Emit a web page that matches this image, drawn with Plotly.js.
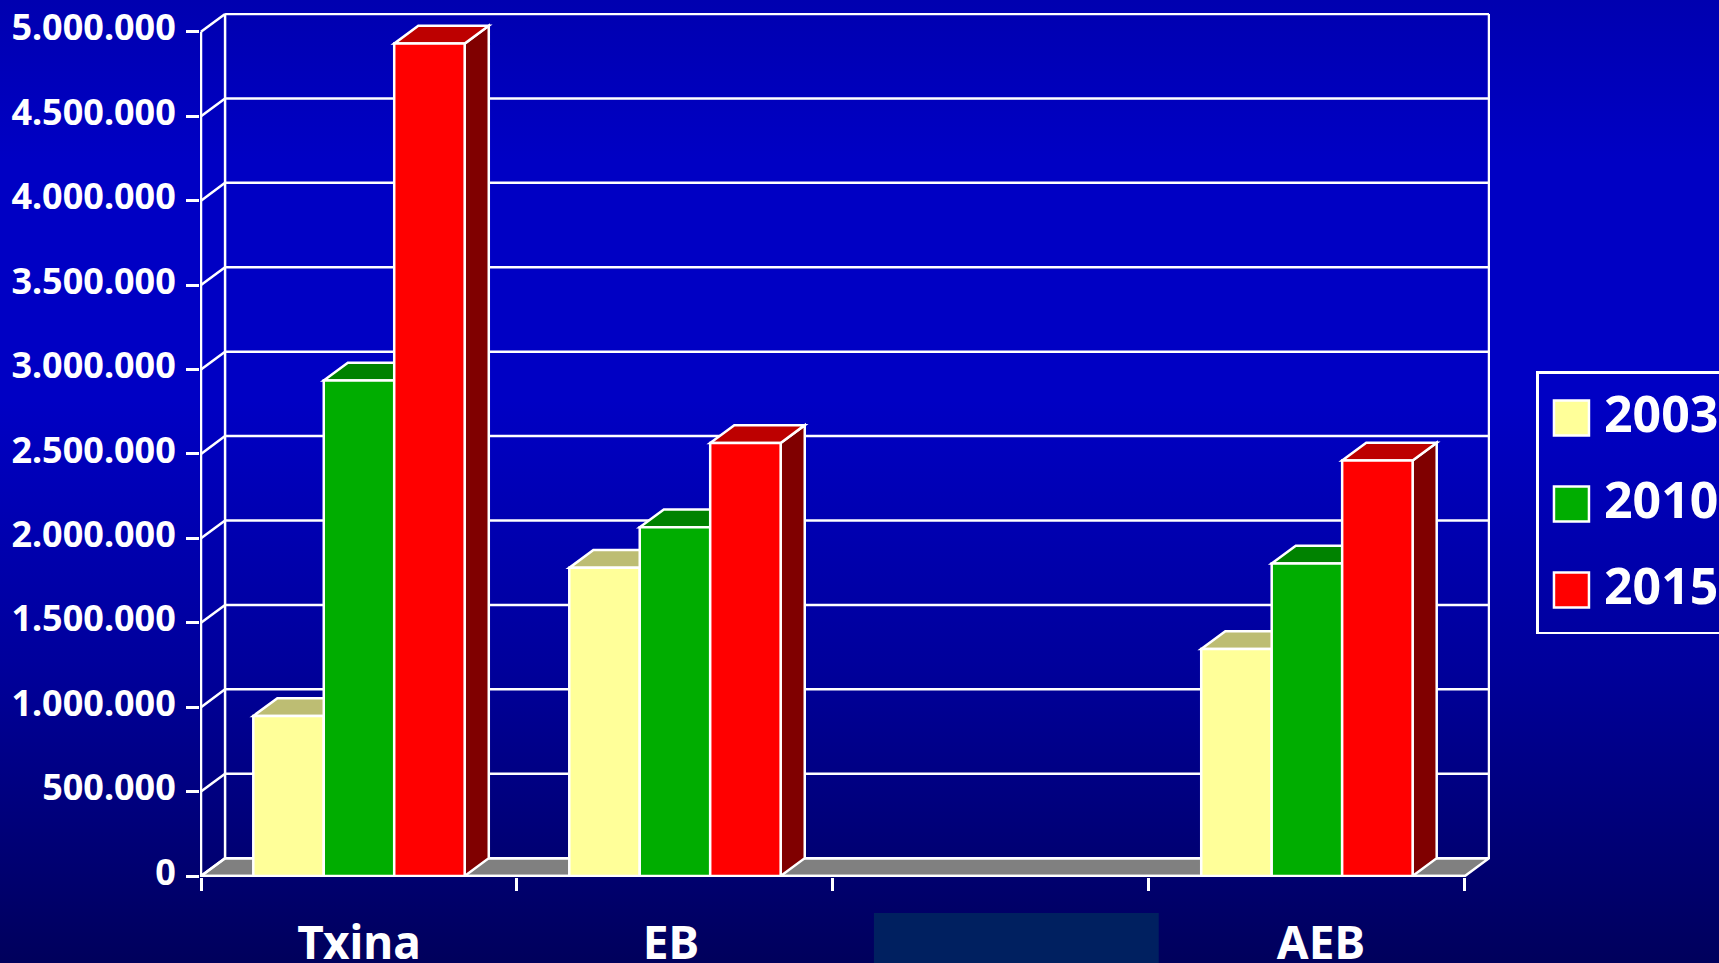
<!DOCTYPE html>
<html>
<head>
<meta charset="utf-8">
<script src="https://cdn.plot.ly/plotly-3.0.1.min.js"></script>
<style>
html,body{margin:0;padding:0;width:1719px;height:963px;overflow:hidden;
background:linear-gradient(180deg,#0000b0 0px,#0000c4 160px,#0000c4 400px,#00009c 660px,#00005c 963px);}
#chart{width:1719px;height:963px;}
</style>
</head>
<body>
<div id="chart"></div>
<script>
const categories = ["Txina", "EB", " ", "AEB"];
const years = ["2003", "2010", "2015"];
const values2003 = [948000, 1825000, null, 1344000];
const values2010 = [2935000, 2065000, null, 1851000];
const values2015 = [4930000, 2565000, null, 2461000];
const yTicks = [0, 500000, 1000000, 1500000, 2000000, 2500000, 3000000, 3500000, 4000000, 4500000, 5000000];
const yTickLabels = ["0", "500.000", "1.000.000", "1.500.000", "2.000.000", "2.500.000", "3.000.000", "3.500.000", "4.000.000", "4.500.000", "5.000.000"];
const frontColors = ["#ffff99", "#00ad00", "#ff0000"];
const topColors = ["#bdbd73", "#008200", "#bd0000"];
const sideColors = ["#808050", "#006000", "#800000"];

const seriesValues = [values2003, values2010, values2015];
const pxPerCat = 316.2, pxPerVal = 844.3 / 5000000;
const dx = 24.1 / pxPerCat, dy = 17.8 / pxPerVal;
const bargap = 0.331;
const white = "#ffffff";
const lineW = {color: white, width: 2.5};

const plotLeft = 199.6, plotTop = 12.9, plotBottom = 877;
const plotW = (4 + dx) * pxPerCat + 2;
const xRange = [-0.5 - 1 / pxPerCat, 3.5 + dx + 1 / pxPerCat];
const yRange = [-1 / pxPerVal, 5000000 + dy + 1 / pxPerVal];

function poly(points, fill, line) {
  const path = points.map((p, i) => (i ? "L" : "M") + p[0] + "," + p[1]).join(" ") + " Z";
  return {type: "path", xref: "x", yref: "y", path, fillcolor: fill, line: line || lineW, layer: "below"};
}
function seg(x0, y0, x1, y1) {
  return {type: "line", xref: "x", yref: "y", x0, y0, x1, y1, line: lineW, layer: "below"};
}

const L = -0.5, R = 3.5, top5 = 5000000;
const shapes = [];
// floor
shapes.push(poly([[L, 0], [L + dx, dy], [R + dx, dy], [R, 0]], "#808080"));
// back wall and grid
yTicks.forEach(v => {
  shapes.push(seg(L + dx, v + dy, R + dx, v + dy));
  shapes.push(seg(L, v, L + dx, v + dy));
});
shapes.push(seg(L + dx, dy, L + dx, top5 + dy));
shapes.push(seg(R + dx, dy, R + dx, top5 + dy));
shapes.push(seg(L, 0, L, top5));
shapes.push(seg(L, 0, R, 0));
// depth faces of the bars
const barW = (1 - bargap) / years.length;
seriesValues.forEach((vals, s) => {
  vals.forEach((v, c) => {
    if (v === null) return;
    const x0 = c - (1 - bargap) / 2 + s * barW, x1 = x0 + barW;
    shapes.push(poly([[x1, 0], [x1 + dx, dy], [x1 + dx, v + dy], [x1, v]], sideColors[s]));
    shapes.push(poly([[x0, v], [x0 + dx, v + dy], [x1 + dx, v + dy], [x1, v]], topColors[s]));
  });
});
// masked category label
shapes.push({type: "rect", xref: "paper", yref: "paper",
  x0: (874 - plotLeft) / plotW, x1: (1159 - plotLeft) / plotW,
  y0: -(970 - plotBottom) / (plotBottom - plotTop), y1: -(913 - plotBottom) / (plotBottom - plotTop),
  fillcolor: "#002060", line: {width: 0}, layer: "above"});

const traces = years.map((y, s) => ({
  type: "bar", name: y, x: categories, y: seriesValues[s],
  legendgroup: y,
  marker: {color: frontColors[s], line: {color: white, width: 2.5}},
  hoverinfo: "x+y+name"
}));

const layout = {
  width: 1719, height: 963,
  paper_bgcolor: "rgba(0,0,0,0)", plot_bgcolor: "rgba(0,0,0,0)",
  margin: {l: plotLeft, r: 1719 - plotLeft - plotW, t: plotTop, b: 963 - plotBottom, pad: 0, autoexpand: false},
  barmode: "group", bargap: bargap, bargroupgap: 0,
  font: {family: "'Noto Sans', sans-serif", color: white},
  xaxis: {
    type: "category", categoryorder: "array", categoryarray: categories,
    range: xRange, autorange: false, tickson: "boundaries",
    ticks: "outside", ticklen: 13, tickwidth: 2.5, tickcolor: white,
    showgrid: false, zeroline: false, showline: false, automargin: false,
    ticklabelstandoff: 35,
    tickfont: {size: 46, weight: 700, color: white}
  },
  yaxis: {
    range: yRange, autorange: false, tickmode: "array", tickvals: yTicks, ticktext: yTickLabels,
    ticks: "outside", ticklen: 13, tickwidth: 2.5, tickcolor: white,
    showgrid: false, zeroline: false, showline: false, automargin: false,
    ticklabelstandoff: 3, ticklabelshift: -4,
    tickfont: {size: 36, weight: 700, color: white}
  },
  showlegend: true,
  legend: {
    x: (1537 - plotLeft) / plotW, xanchor: "left",
    y: 1 - (371 - plotTop) / (plotBottom - plotTop), yanchor: "top",
    bgcolor: "rgba(0,0,0,0)", bordercolor: white, borderwidth: 2.5,
    font: {size: 50, weight: 700, color: white},
    itemwidth: 55, traceorder: "grouped", tracegroupgap: 18,
    itemclick: false, itemdoubleclick: false
  },
  shapes: shapes
};

Plotly.newPlot("chart", traces, layout, {displayModeBar: false, responsive: false}).then(gd => {
  // enlarge the legend swatches to the size in the picture
  gd.querySelectorAll(".legendpoints path").forEach(p => {
    p.setAttribute("d", "M17.5,23H-17.5V-12H17.5Z");
  });
  const bg = gd.querySelector(".legend .bg");
  if (bg) bg.setAttribute("height", parseFloat(bg.getAttribute("height")) + 8);
  // nudge the category labels to where the picture has them
  const nudge = {"EB": -4, "AEB": 14};
  gd.querySelectorAll(".xtick text").forEach(t => {
    const d = nudge[t.textContent];
    if (d) t.setAttribute("x", parseFloat(t.getAttribute("x")) + d);
  });
});
</script>
</body>
</html>
